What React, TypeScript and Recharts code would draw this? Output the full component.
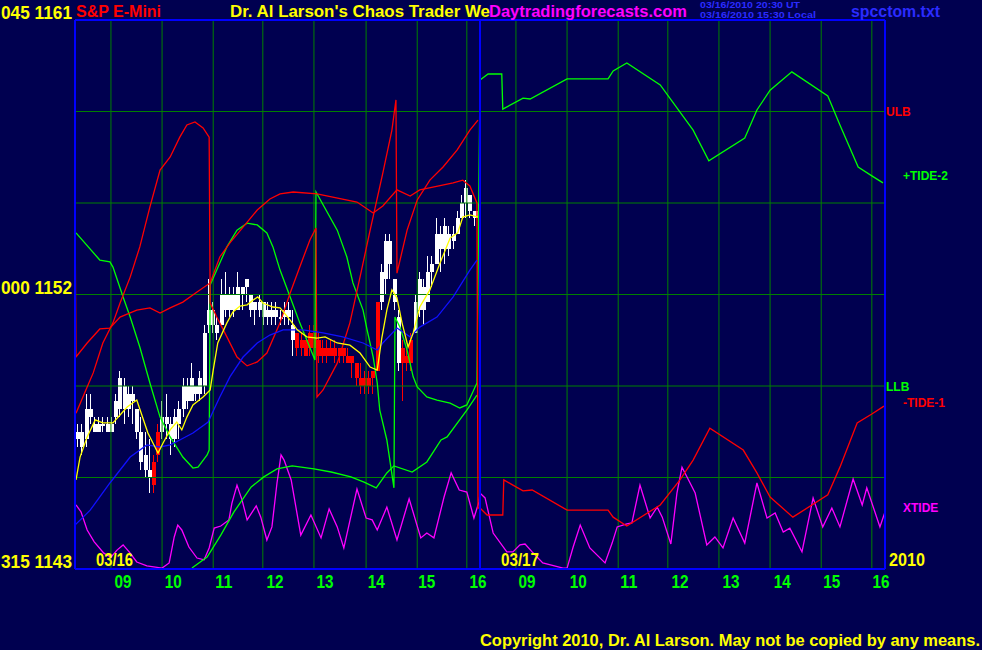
'use client';

import * as React from 'react';
import { ComposedChart, Bar, Line, XAxis, YAxis, ReferenceLine } from 'recharts';

// 5 minute bars of the 03/16 session, in points
const OPEN = [
  1147.25, 1147.5, 1147.25, 1148.25, 1147.75, 1147.5, 1147.75, 1147.75, 1147.5, 1148.0,
  1148.25, 1149.0, 1148.25, 1148.75, 1148.25, 1147.5, 1146.75, 1146.25, 1146.5, 1146.75,
  1147.5, 1148.0, 1147.75, 1147.25, 1147.75, 1148.25, 1149.0, 1148.5, 1149.0, 1148.75,
  1149.0, 1151.0, 1151.5, 1151.0, 1151.0, 1152.0, 1151.5, 1152.0, 1151.5, 1152.0,
  1152.25, 1152.0, 1151.5, 1151.5, 1151.75, 1151.25, 1151.5, 1151.25, 1151.25, 1151.25,
  1151.5, 1151.0, 1150.75, 1150.5, 1150.5, 1150.25, 1150.75, 1150.5, 1150.25, 1150.0,
  1150.25, 1150.25, 1150.0, 1150.25, 1150.0, 1150.0, 1149.75, 1149.25, 1149.25, 1149.0,
  1149.25, 1149.5, 1151.75, 1152.5, 1153.75, 1152.5, 1151.25, 1150.25, 1149.75, 1149.75,
  1150.75, 1151.5, 1152.25, 1151.75, 1152.75, 1153.0, 1154.0, 1153.5, 1154.0, 1153.75,
  1154.0, 1154.5, 1155.0, 1155.25, 1154.5, 1154.75,
];
const HIGH = [
  1147.75, 1147.75, 1148.75, 1148.75, 1148.0, 1148.0, 1148.0, 1148.0, 1148.0, 1148.75,
  1149.5, 1149.25, 1149.0, 1149.0, 1148.25, 1148.0, 1147.5, 1147.25, 1146.75, 1147.75,
  1148.5, 1148.75, 1148.0, 1148.25, 1148.5, 1149.25, 1149.25, 1149.75, 1149.0, 1149.5,
  1151.0, 1152.5, 1151.75, 1151.25, 1152.5, 1152.75, 1152.25, 1152.25, 1152.75, 1152.25,
  1152.5, 1152.0, 1151.75, 1152.0, 1151.75, 1151.75, 1151.75, 1151.75, 1151.5, 1151.75,
  1151.75, 1151.5, 1150.75, 1150.75, 1150.5, 1151.0, 1151.0, 1150.75, 1150.5, 1150.5,
  1150.5, 1150.5, 1150.25, 1150.25, 1150.25, 1150.0, 1149.75, 1149.75, 1149.5, 1149.5,
  1149.5, 1151.75, 1153.0, 1154.0, 1154.0, 1152.5, 1151.5, 1150.5, 1150.25, 1150.75,
  1152.0, 1152.75, 1152.5, 1153.25, 1153.25, 1154.5, 1154.25, 1154.5, 1154.25, 1154.25,
  1154.75, 1155.25, 1155.75, 1155.25, 1154.75, 1155.0,
];
const LOW = [
  1147.0, 1146.75, 1147.0, 1147.75, 1147.5, 1147.5, 1147.5, 1147.5, 1147.5, 1147.75,
  1148.0, 1147.75, 1148.0, 1147.75, 1147.25, 1146.25, 1146.0, 1145.5, 1145.5, 1146.5,
  1147.25, 1147.25, 1146.75, 1147.0, 1147.25, 1148.0, 1148.25, 1148.5, 1148.5, 1148.5,
  1148.75, 1150.75, 1150.75, 1150.5, 1151.0, 1151.25, 1151.25, 1151.25, 1151.5, 1151.5,
  1151.75, 1151.25, 1151.0, 1151.25, 1151.0, 1151.0, 1151.0, 1151.0, 1151.0, 1151.0,
  1151.0, 1150.0, 1150.0, 1150.0, 1150.0, 1150.0, 1150.0, 1149.75, 1149.75, 1149.75,
  1150.0, 1149.75, 1149.75, 1149.75, 1149.75, 1149.25, 1149.0, 1148.75, 1148.75, 1148.75,
  1148.75, 1149.5, 1151.5, 1152.0, 1152.5, 1151.5, 1149.5, 1148.5, 1149.5, 1149.5,
  1150.75, 1151.25, 1151.0, 1151.75, 1152.25, 1153.0, 1152.75, 1153.0, 1153.25, 1153.5,
  1154.0, 1154.5, 1154.5, 1154.5, 1154.25, 1154.25,
];
const CLOSE = [
  1147.5, 1147.0, 1148.25, 1148.0, 1147.5, 1147.75, 1147.75, 1147.5, 1147.75, 1148.5,
  1149.25, 1148.25, 1148.75, 1148.5, 1147.5, 1146.5, 1146.25, 1146.0, 1145.75, 1147.5,
  1148.0, 1147.75, 1147.25, 1148.0, 1148.25, 1149.0, 1148.5, 1149.25, 1148.75, 1149.25,
  1150.75, 1151.5, 1151.0, 1150.75, 1152.0, 1151.5, 1152.0, 1151.5, 1152.25, 1152.25,
  1152.5, 1151.5, 1151.75, 1151.75, 1151.25, 1151.5, 1151.25, 1151.5, 1151.25, 1151.5,
  1151.25, 1150.5, 1150.25, 1150.25, 1150.0, 1150.75, 1150.25, 1150.0, 1150.0, 1150.25,
  1150.0, 1150.0, 1150.25, 1150.0, 1149.75, 1149.75, 1149.25, 1149.0, 1149.0, 1149.25,
  1149.5, 1151.75, 1152.75, 1153.75, 1153.0, 1151.75, 1149.75, 1149.75, 1150.0, 1150.5,
  1151.75, 1152.5, 1151.5, 1152.75, 1153.0, 1154.0, 1153.5, 1154.25, 1153.5, 1154.0,
  1154.5, 1155.0, 1155.5, 1154.75, 1154.75, 1154.5,
];
const RED_BARS = [18, 19, 52, 53, 54, 55, 56, 57, 58, 59, 60, 61, 62, 63, 64, 65, 66, 67, 68, 69, 70, 71, 77, 78, 79];

// [hours from 08:15 on 03/16, value]
const MA_FAST: [number, number][] = [
  [0.02, 1145.92], [0.1, 1146.67], [0.24, 1147.33], [0.4, 1147.89], [0.55, 1147.79], [0.75, 1147.79],
  [0.89, 1148.05], [1.03, 1148.31], [1.22, 1148.54], [1.32, 1148.05], [1.44, 1147.46], [1.58, 1147.0],
  [1.64, 1146.8], [1.74, 1147.13], [1.88, 1147.56], [2.01, 1147.82], [2.11, 1147.56], [2.21, 1147.98],
  [2.33, 1148.38], [2.53, 1148.64], [2.67, 1148.87], [2.73, 1149.52], [2.82, 1150.41], [3.0, 1151.07],
  [3.12, 1151.43], [3.26, 1151.62], [3.4, 1151.66], [3.52, 1151.82], [3.61, 1151.92], [3.71, 1151.72],
  [3.91, 1151.59], [4.05, 1151.56], [4.25, 1151.16], [4.39, 1150.84], [4.58, 1150.61], [4.78, 1150.57],
  [4.94, 1150.61], [5.18, 1150.41], [5.43, 1150.34], [5.63, 1150.08], [5.83, 1149.62], [5.97, 1149.52],
  [6.06, 1150.57], [6.16, 1151.49], [6.26, 1152.15], [6.36, 1151.89], [6.46, 1151.07], [6.58, 1150.28],
  [6.68, 1150.74], [6.81, 1151.59], [7.01, 1152.15], [7.21, 1153.03], [7.41, 1153.85], [7.56, 1154.02],
  [7.66, 1154.54], [7.8, 1154.61], [7.96, 1154.54],
];
const MA_SLOW: [number, number][] = [
  [0, 1144.44], [0.3, 1144.93], [0.69, 1145.82], [1.09, 1146.67], [1.42, 1147.07], [1.68, 1147.0],
  [1.88, 1147.07], [2.07, 1147.23], [2.33, 1147.46], [2.63, 1147.82], [2.86, 1148.64], [3.06, 1149.3],
  [3.32, 1149.95], [3.6, 1150.41], [3.85, 1150.67], [4.11, 1150.84], [4.5, 1150.84], [4.9, 1150.74],
  [5.29, 1150.61], [5.69, 1150.41], [5.97, 1150.18], [6.08, 1150.41], [6.36, 1150.9], [6.62, 1150.61],
  [6.81, 1150.93], [7.15, 1151.26], [7.47, 1151.92], [7.8, 1152.8], [7.94, 1153.13],
];
const TIDE_2: [number, number][] = [
  [0.02, 1154.02], [0.49, 1153.13], [0.69, 1153.07], [0.75, 1152.9], [0.95, 1151.92], [1.09, 1151.26],
  [1.28, 1150.28], [1.48, 1149.1], [1.68, 1147.98], [1.88, 1147.33], [2.13, 1146.67], [2.33, 1146.31],
  [2.43, 1146.34], [2.61, 1146.74], [2.65, 1146.9], [2.67, 1152.31], [2.8, 1152.8], [3.0, 1153.56],
  [3.2, 1154.11], [3.4, 1154.34], [3.6, 1154.28], [3.79, 1154.02], [3.91, 1153.56], [4.05, 1152.8],
  [4.25, 1151.92], [4.44, 1151.07], [4.74, 1149.85], [4.76, 1155.36], [5.18, 1154.11], [5.37, 1153.23],
  [5.49, 1152.38], [5.69, 1151.49], [5.77, 1150.84], [5.89, 1149.95], [5.97, 1149.1], [6.02, 1148.21],
  [6.16, 1147.23], [6.3, 1145.66], [6.32, 1151.26], [6.42, 1150.93], [6.56, 1150.18], [6.68, 1149.3],
  [6.76, 1148.97], [6.95, 1148.64], [7.15, 1148.54], [7.41, 1148.44], [7.6, 1148.28], [7.74, 1148.38],
  [7.94, 1149.1], [8.0, 1159.03], [8.16, 1159.23], [8.43, 1159.23], [8.45, 1158.08], [8.85, 1158.44],
  [8.99, 1158.41], [9.72, 1159.07], [10.53, 1159.07], [10.63, 1159.33], [10.9, 1159.59], [11.56, 1158.87],
  [12.21, 1157.39], [12.52, 1156.38], [13.23, 1157.13], [13.47, 1158.05], [13.73, 1158.7], [14.16, 1159.3],
  [14.87, 1158.51], [15.11, 1157.56], [15.47, 1156.18], [15.74, 1155.89], [15.96, 1155.66],
];
const LOWER_BAND: [number, number][] = [
  [2.31, 1143.03], [2.61, 1143.39], [2.88, 1144.11], [3.14, 1144.87], [3.48, 1145.69], [3.73, 1146.02],
  [3.99, 1146.28], [4.29, 1146.38], [4.72, 1146.28], [5.06, 1146.18], [5.45, 1146.02], [5.71, 1145.85],
  [5.95, 1145.66], [6.16, 1146.15], [6.3, 1146.38], [6.66, 1146.18], [6.95, 1146.51], [7.23, 1147.23],
  [7.35, 1147.33], [7.74, 1148.21], [7.94, 1148.7],
];
const TIDE_1: [number, number][] = [
  [0, 1154.7], [0.02, 1149.95], [0.24, 1150.41], [0.49, 1150.87], [0.69, 1150.9], [0.89, 1151.26],
  [1.22, 1151.49], [1.48, 1151.56], [1.68, 1151.39], [1.88, 1151.56], [2.13, 1151.75], [2.41, 1152.08],
  [2.67, 1152.38], [2.86, 1153.23], [3.06, 1153.69], [3.32, 1154.21], [3.6, 1154.77], [3.85, 1155.13],
  [4.05, 1155.3], [4.31, 1155.36], [4.78, 1155.3], [5.57, 1155.03], [5.89, 1154.67], [6.08, 1154.9],
  [6.36, 1155.43], [6.62, 1155.23], [6.81, 1155.43], [7.07, 1155.52], [7.47, 1155.66], [7.66, 1155.75],
  [7.8, 1155.56], [7.94, 1155.0], [7.96, 1145.0], [8.0, 1145.0], [8.14, 1144.77], [8.45, 1144.77],
  [8.47, 1145.92], [8.65, 1145.75], [8.85, 1145.56], [9.03, 1145.59], [9.72, 1144.93], [10.53, 1144.93],
  [10.63, 1144.7], [10.9, 1144.41], [11.56, 1145.1], [11.95, 1145.92], [12.21, 1146.57], [12.54, 1147.62],
  [13.2, 1146.9], [13.47, 1146.15], [13.73, 1145.36], [14.18, 1144.7], [14.87, 1145.43], [15.11, 1146.34],
  [15.45, 1147.79], [15.74, 1148.08], [15.98, 1148.34],
];
const UPPER_BAND: [number, number][] = [
  [0.02, 1148.11], [0.24, 1148.97], [0.36, 1149.43], [0.55, 1150.41], [0.75, 1151.07], [0.89, 1151.72],
  [1.09, 1152.57], [1.28, 1153.56], [1.48, 1154.87], [1.68, 1156.08], [1.88, 1156.51], [2.07, 1157.16],
  [2.21, 1157.56], [2.37, 1157.66], [2.53, 1157.46], [2.65, 1157.16], [2.67, 1151.72], [2.8, 1151.26],
  [3.0, 1150.61], [3.2, 1149.95], [3.4, 1149.66], [3.6, 1149.79], [3.79, 1150.08], [4.05, 1151.07],
  [4.25, 1152.05], [4.44, 1152.9], [4.64, 1153.79], [4.76, 1154.18], [4.78, 1148.64], [4.9, 1148.87],
  [5.18, 1149.75], [5.43, 1151.07], [5.63, 1152.57], [5.83, 1154.11], [6.08, 1155.98], [6.26, 1157.39],
  [6.34, 1158.38], [6.36, 1152.7], [6.56, 1154.11], [6.76, 1155.1], [7.01, 1155.75], [7.27, 1156.18],
  [7.55, 1156.74], [7.8, 1157.39], [7.96, 1157.72],
];
const XTIDE: [number, number][] = [
  [0.02, 1145.1], [0.12, 1144.87], [0.24, 1144.28], [0.38, 1143.89], [0.57, 1143.52], [0.71, 1143.39],
  [0.83, 1143.62], [0.95, 1143.79], [1.07, 1143.56], [1.22, 1143.23], [1.42, 1143.1], [1.72, 1143.03],
  [1.86, 1143.2], [1.96, 1144.05], [2.03, 1144.44], [2.11, 1144.28], [2.25, 1143.72], [2.41, 1143.36],
  [2.55, 1143.3], [2.65, 1143.69], [2.75, 1144.34], [2.88, 1144.41], [3.04, 1144.61], [3.1, 1145.16],
  [3.2, 1145.75], [3.3, 1145.26], [3.4, 1144.61], [3.58, 1145.07], [3.67, 1144.7], [3.79, 1143.95],
  [3.89, 1144.38], [3.99, 1145.82], [4.07, 1146.74], [4.13, 1146.57], [4.27, 1145.92], [4.46, 1144.11],
  [4.66, 1144.77], [4.86, 1144.02], [5.02, 1144.97], [5.18, 1144.38], [5.31, 1143.69], [5.57, 1145.62],
  [5.75, 1144.67], [5.87, 1144.61], [5.97, 1144.28], [6.16, 1145.03], [6.36, 1143.95], [6.6, 1145.3],
  [6.83, 1144.02], [6.95, 1144.18], [7.09, 1144.02], [7.29, 1145.36], [7.43, 1146.15], [7.59, 1145.59],
  [7.74, 1145.52], [7.88, 1144.67], [7.98, 1145.2], [8.0, 1145.49], [8.1, 1145.33], [8.26, 1144.18],
  [8.53, 1143.56], [8.65, 1143.56], [8.79, 1143.79], [8.89, 1143.82], [9.03, 1143.56], [9.24, 1143.2],
  [9.64, 1143.03], [9.72, 1143.03], [9.84, 1143.72], [9.98, 1144.44], [10.17, 1143.69], [10.47, 1143.2],
  [10.61, 1143.85], [10.71, 1144.38], [10.9, 1144.48], [11.0, 1144.51], [11.16, 1145.75], [11.36, 1144.67],
  [11.5, 1145.03], [11.6, 1144.7], [11.77, 1143.82], [11.89, 1145.49], [11.99, 1146.34], [12.15, 1145.82],
  [12.25, 1145.49], [12.48, 1143.79], [12.64, 1144.05], [12.8, 1143.69], [13.0, 1144.67], [13.23, 1143.85],
  [13.47, 1145.82], [13.67, 1144.67], [13.83, 1144.84], [13.99, 1144.21], [14.12, 1144.34], [14.36, 1143.56],
  [14.58, 1145.33], [14.77, 1144.38], [14.95, 1145.0], [15.11, 1144.38], [15.37, 1145.95], [15.55, 1145.1],
  [15.64, 1145.66], [15.9, 1144.38], [16.0, 1144.87],
];

const HOUR_LINES = [0.71, 1.72, 2.73, 3.71, 4.72, 5.75, 6.76, 7.74, 8.71, 9.72, 10.73, 11.71, 12.72, 13.73, 14.74, 15.74];
const HOUR_TICKS = [0.95, 1.94, 2.94, 3.95, 4.94, 5.95, 6.95, 7.96, 8.93, 9.94, 10.94, 11.95, 12.96, 13.97, 14.95, 15.92];
const HOUR_LABELS = ['09', '10', '11', '12', '13', '14', '15', '16', '09', '10', '11', '12', '13', '14', '15', '16'];
const PRICE_GRID = [1146, 1149, 1152, 1155, 1158];
const PRICE_TICKS = [1143, 1152, 1161];
const PRICE_TICK_LABELS = ['315 1143', '000 1152', '045 1161'];

const BG = '#000050';
const GRID = '#008000';
const FRAME = '#0000ff';
const FONT = "'Liberation Sans', Arial, sans-serif";

const candles = OPEN.map((open, i) => ({
  t: (i + 0.5) / 12,
  open,
  high: HIGH[i],
  low: LOW[i],
  close: CLOSE[i],
  range: [LOW[i], HIGH[i]],
  red: RED_BARS.includes(i),
}));

const toPoints = (pairs: [number, number][]) => pairs.map(([t, v]) => ({ t, v }));

function Candle(props: any) {
  const { x, y, width, height, payload } = props;
  if (x == null || y == null || !payload) return null;
  const color = payload.red ? '#ff0000' : '#ffffff';
  const top = Math.min(y, y + height);
  const h = Math.abs(height);
  const span = payload.high - payload.low;
  const k = span > 0 ? h / span : 0;
  const bodyTop = top + (payload.high - Math.max(payload.open, payload.close)) * k;
  const bodyH = Math.max(2, Math.abs(payload.open - payload.close) * k);
  const c = Math.round(x + (width || 0) / 2);
  return (
    <g shapeRendering="crispEdges">
      <line x1={c + 0.5} x2={c + 0.5} y1={top} y2={top + Math.max(h, 1)} stroke={color} strokeWidth={1} />
      <rect x={c - 1} y={bodyTop} width={4} height={bodyH} fill={color} />
    </g>
  );
}

function HourTick(props: any) {
  const { x, y, payload } = props;
  const label = HOUR_LABELS[HOUR_TICKS.indexOf(payload.value)];
  return (
    <text x={x} y={y + 11} textAnchor="middle" fill="#00ff00" fontFamily={FONT} fontWeight="bold"
      fontSize={19} textLength={17} lengthAdjust="spacingAndGlyphs">
      {label}
    </text>
  );
}

function PriceTick(props: any) {
  const { x, y, payload } = props;
  const label = PRICE_TICK_LABELS[PRICE_TICKS.indexOf(payload.value)];
  return (
    <text x={x + 5} y={y - 1} textAnchor="end" fill="#ffff00" fontFamily={FONT} fontWeight="bold"
      fontSize={19} textLength={71} lengthAdjust="spacingAndGlyphs">
      {label}
    </text>
  );
}

function Overlay() {
  const t = (txt: string, x: number, y: number, fill: string, size: number, len?: number) => (
    <text x={x} y={y} fill={fill} fontFamily={FONT} fontWeight="bold" fontSize={size}
      textLength={len} lengthAdjust={len ? 'spacingAndGlyphs' : undefined}>
      {txt}
    </text>
  );
  return (
    <svg width={982} height={650} style={{ position: 'absolute', left: 0, top: 0, pointerEvents: 'none' }}>
      {t('S&P E-Mini', 76, 17, '#ff0000', 16)}
      {t("Dr. Al Larson's Chaos Trader We", 230, 17, '#ffff00', 16, 260)}
      {t('Daytradingforecasts.com', 489, 17, '#ff00ff', 16, 198)}
      {t('03/16/2010 20:30 UT', 700, 8, '#2b2bff', 9, 100)}
      {t('03/16/2010 15:30 Local', 700, 18, '#2b2bff', 9, 116)}
      {t('spcctom.txt', 851, 17, '#2b2bff', 16, 89)}
      {t('ULB', 886, 116, '#ff0000', 12)}
      {t('+TIDE-2', 903, 180, '#00ff00', 12)}
      {t('LLB', 886, 391, '#00ff00', 12)}
      {t('-TIDE-1', 903, 407, '#ff0000', 12)}
      {t('XTIDE', 903, 512, '#ff00ff', 12)}
      {t('03/16', 96, 566, '#ffff00', 19, 37)}
      {t('03/17', 501, 566, '#ffff00', 19, 38)}
      {t('2010', 889, 566, '#ffff00', 19, 36)}
      {t('Copyright 2010, Dr. Al Larson. May not be copied by any means.', 480, 646, '#ffff00', 16, 500)}
    </svg>
  );
}

export default function App(): React.JSX.Element {
  const lineProps = {
    dataKey: 'v',
    dot: false,
    activeDot: false,
    isAnimationActive: false,
    strokeWidth: 1.3,
    type: 'linear' as const,
  };
  return (
    <div style={{ position: 'absolute', left: 0, top: 0, width: 982, height: 650, background: BG, overflow: 'hidden' }}>
      <ComposedChart width={982} height={650} data={candles} margin={{ top: 20, right: 97, bottom: 61, left: 0 }}>
        <XAxis
          dataKey="t"
          type="number"
          domain={[0, 16]}
          allowDataOverflow
          ticks={HOUR_TICKS}
          interval={0}
          height={20}
          axisLine={false}
          tickLine={false}
          tick={<HourTick />}
        />
        <YAxis
          type="number"
          domain={[1143, 1161]}
          allowDataOverflow
          ticks={PRICE_TICKS}
          interval={0}
          width={75}
          axisLine={false}
          tickLine={false}
          tick={<PriceTick />}
        />
        {PRICE_GRID.map((p) => (
          <ReferenceLine key={`h${p}`} y={p} stroke={GRID} strokeWidth={1} />
        ))}
        {HOUR_LINES.map((h) => (
          <ReferenceLine key={`v${h}`} x={h} stroke={GRID} strokeWidth={1} />
        ))}
        <Line {...lineProps} data={toPoints(XTIDE)} stroke="#ff00ff" name="XTIDE" />
        <Line {...lineProps} data={toPoints(LOWER_BAND)} stroke="#00ff00" name="lower" />
        <Line {...lineProps} data={toPoints(TIDE_2)} stroke="#00ff00" name="+TIDE-2" />
        <Line {...lineProps} data={toPoints(TIDE_1)} stroke="#ff0000" name="-TIDE-1" />
        <Line {...lineProps} data={toPoints(UPPER_BAND)} stroke="#ff0000" name="upper" />
        <Bar dataKey="range" barSize={4} isAnimationActive={false} shape={(p: any) => <Candle {...p} />} />
        <Line {...lineProps} data={toPoints(MA_SLOW)} stroke="#1010ff" name="slow" />
        <Line {...lineProps} data={toPoints(MA_FAST)} stroke="#ffff00" name="fast" />
        <ReferenceLine x={0} stroke={FRAME} strokeWidth={2} />
        <ReferenceLine x={8} stroke={FRAME} strokeWidth={2} />
        <ReferenceLine x={16} stroke={FRAME} strokeWidth={2} />
        <ReferenceLine y={1161} stroke={FRAME} strokeWidth={2} />
        <ReferenceLine y={1143} stroke={FRAME} strokeWidth={2} />
      </ComposedChart>
      <Overlay />
    </div>
  );
}
